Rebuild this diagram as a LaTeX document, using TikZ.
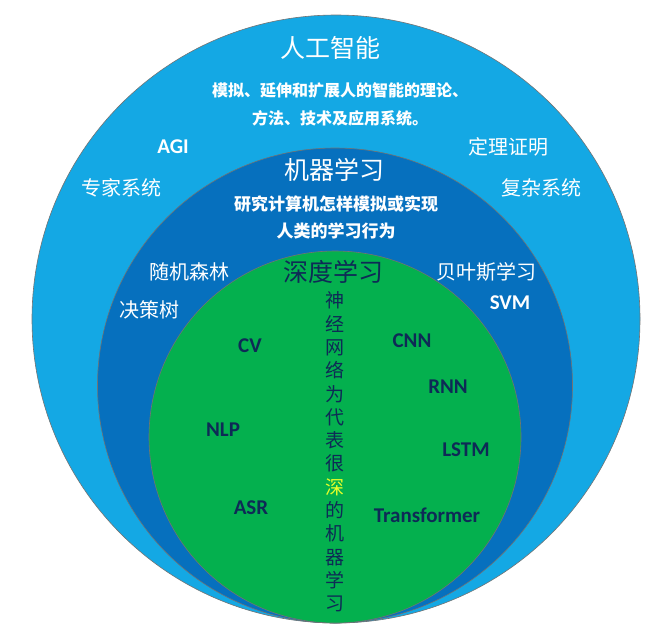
\documentclass[tikz,border=0pt]{standalone}
\usepackage{fontspec}
\setmainfont{Carlito}
\newfontfamily\cjk{Noto Sans CJK SC}
\usepackage{xcolor}

\definecolor{aiblue}{RGB}{20,168,228}
\definecolor{mlblue}{RGB}{6,112,190}
\definecolor{dlgreen}{RGB}{4,176,78}
\definecolor{navy}{RGB}{14,42,86}
\definecolor{deepyellow}{RGB}{232,255,40}

\tikzset{
  ring/.style={draw=black!55, line width=0.6pt},
  title/.style={text=white, font=\cjk\fontsize{25}{30}\selectfont},
  note/.style={text=white, align=center, font=\cjk\bfseries\fontsize{16}{28}\selectfont},
  field/.style={text=white, font=\cjk\fontsize{20}{24}\selectfont},
  abbr/.style={text=white, font=\bfseries\fontsize{21}{24}\selectfont},
  dlabbr/.style={text=navy, font=\bfseries\fontsize{21}{24}\selectfont},
}

\begin{document}
\begin{tikzpicture}[x=1pt, y=-1pt]
  \useasboundingbox (0,0) rectangle (660,630);

  % three nested circles, all touching at the bottom
  \draw[ring, fill=aiblue] (336,319) circle[radius=304pt];
  \draw[ring, fill=mlblue] (335,385.5) circle[radius=237.5pt];
  \draw[ring, fill=dlgreen] (335,437) circle[radius=186pt];

  % artificial intelligence
  \node[title] (ai) at (330,48) {人工智能};
  \node[note] (aidef) at (340,104) {模拟、延伸和扩展人的智能的理论、\\方法、技术及应用系统。};
  \node[abbr] (agi) at (173,147) {AGI};
  \node[field] (proof) at (508,147) {定理证明};
  \node[field] (expert) at (121,188) {专家系统};
  \node[field] (complex) at (541,188) {复杂系统};

  % machine learning
  \node[title] (ml) at (334,170) {机器学习};
  \node[note, font=\cjk\bfseries\fontsize{17}{27}\selectfont] (mldef) at (336,217) {研究计算机怎样模拟或实现\\人类的学习行为};
  \node[field] (forest) at (189,272) {随机森林};
  \node[field] (bayes) at (486,272) {贝叶斯学习};
  \node[field] (tree) at (149,310) {决策树};
  \node[abbr] (svm) at (510,303) {SVM};

  % deep learning
  \node[title, text=navy] (dl) at (333,272) {深度学习};
  \node[text=navy, align=center, font=\cjk\fontsize{19}{23.3}\selectfont] (dldef) at (335,452)
    {神\\经\\网\\络\\为\\代\\表\\很\\\textcolor{deepyellow}{深}\\的\\机\\器\\学\\习};
  \node[dlabbr] (cv) at (250,346) {CV};
  \node[dlabbr] (cnn) at (412,341) {CNN};
  \node[dlabbr] (rnn) at (448,387) {RNN};
  \node[dlabbr] (nlp) at (223,430) {NLP};
  \node[dlabbr] (lstm) at (466,450) {LSTM};
  \node[dlabbr] (asr) at (251,508) {ASR};
  \node[dlabbr] (trans) at (427,515) {Transformer};
\end{tikzpicture}
\end{document}
